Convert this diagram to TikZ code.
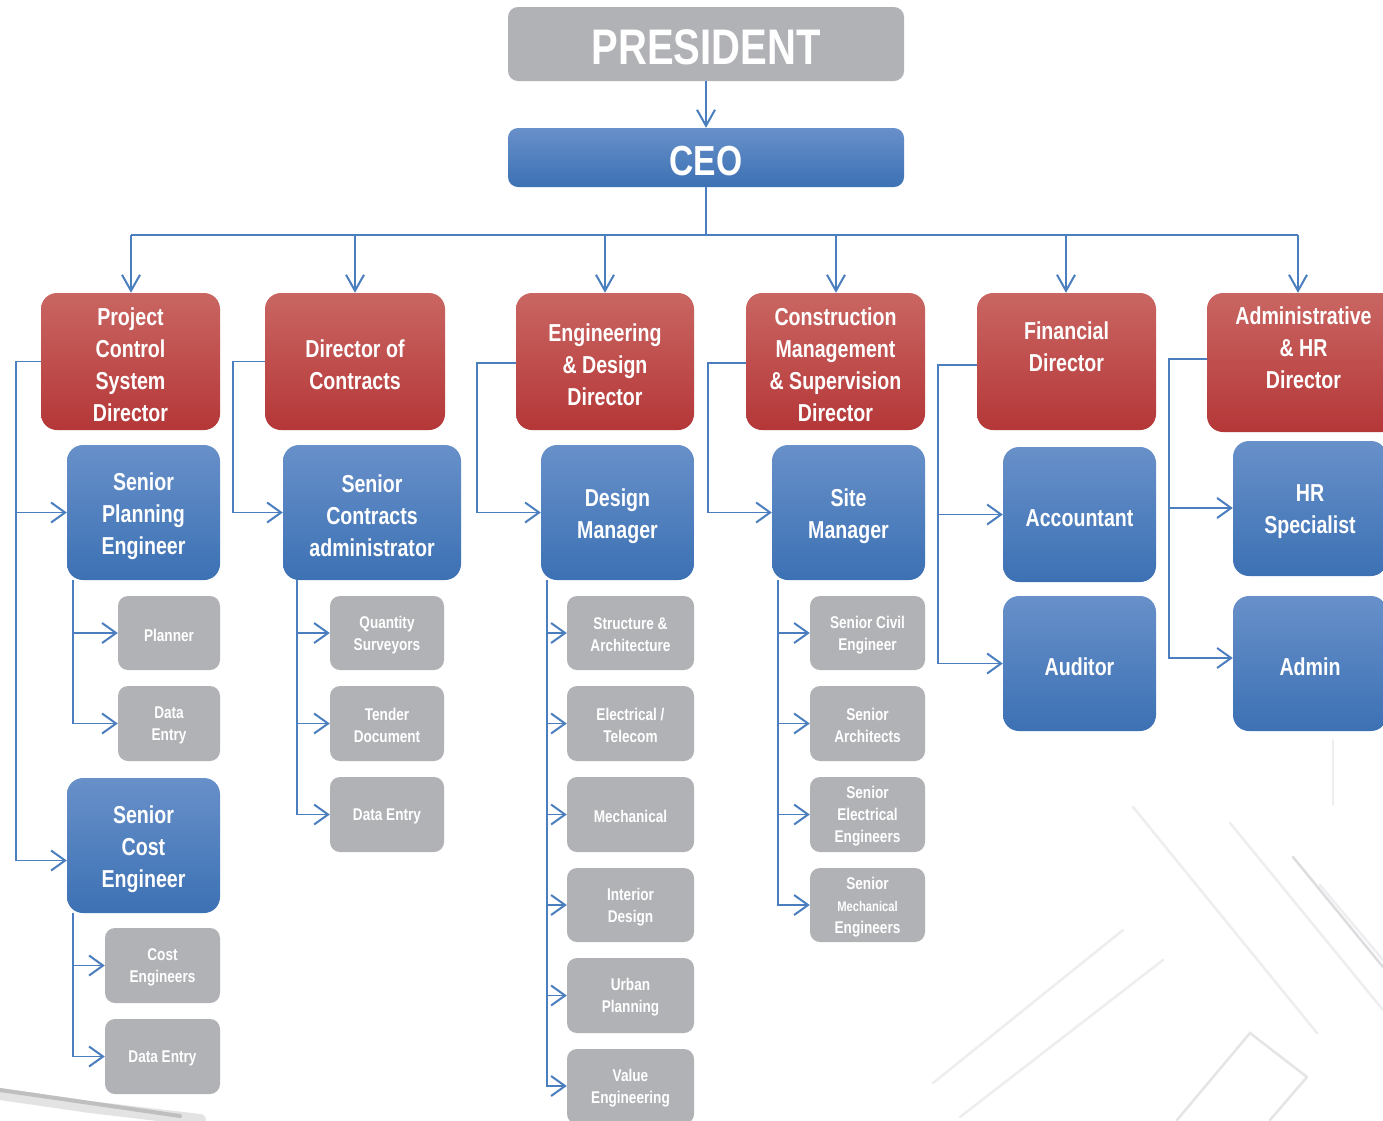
\documentclass[tikz,border=0pt]{standalone}
\usepackage{fontspec}
\setmainfont{Liberation Sans}[FakeStretch=0.8]
\usetikzlibrary{arrows.meta}
\definecolor{redtop}{RGB}{201,102,98}
\definecolor{redbot}{RGB}{181,55,56}
\definecolor{bluetop}{RGB}{104,144,201}
\definecolor{bluebot}{RGB}{60,113,180}
\definecolor{greybox}{RGB}{177,178,182}
\definecolor{linec}{RGB}{74,126,190}
\definecolor{sketch}{RGB}{238,238,240}
% box shape node + separate text node (slightly lowered, as in the reference)
\newcommand\bx[8]{%
  \node[#2, minimum width={(#5-#3)*1pt}, minimum height={(#6-#4)*1pt}] (#1) at ({(#3+#5)/2},{(#4+#6)/2}) {};
  \node[#2txt] (#1-t) at ([yshift=-#7pt]#1.center) {#8};}
\tikzset{
  basetxt/.style={inner sep=0pt, align=center, text=white},
  presbox/.style={inner sep=0pt, rounded corners=10pt, fill=greybox},
  presboxtxt/.style={basetxt, font=\bfseries\fontsize{50}{56}\selectfont},
  ceobox/.style={inner sep=0pt, rounded corners=10pt, top color=bluetop, bottom color=bluebot},
  ceoboxtxt/.style={basetxt, font=\bfseries\fontsize{42}{48}\selectfont},
  redbox/.style={inner sep=0pt, rounded corners=16pt, top color=redtop, bottom color=redbot},
  redboxtxt/.style={basetxt, font=\bfseries\fontsize{24.5}{32}\selectfont},
  bluebox/.style={inner sep=0pt, rounded corners=16pt, top color=bluetop, bottom color=bluebot},
  blueboxtxt/.style={basetxt, font=\bfseries\fontsize{24.5}{32}\selectfont},
  greyb/.style={inner sep=0pt, rounded corners=10pt, fill=greybox},
  greybtxt/.style={basetxt, font=\bfseries\fontsize{17}{22}\selectfont},
  conn/.style={draw=linec, line width=1.6pt},
  arr/.style={conn, -{Straight Barb[length=14pt,width=20pt,line width=2pt]}},
  darr/.style={conn, -{Straight Barb[length=16pt,width=18pt,line width=2pt]}},
  sk/.style={draw=sketch, line width=2.5pt, line cap=round},
}
\begin{document}
\begin{tikzpicture}[x=1pt,y=-1pt]
\useasboundingbox[fill=white] (0,0) rectangle (1383,1120);
% faint background sketch
\draw[sk] (1133,807) -- (1317,1033);
\draw[sk] (1230,823) -- (1383,1010);
\draw[sk, draw=sketch!85!gray] (1293,857) -- (1383,967);
\draw[sk] (1320,885) -- (1383,960);
\draw[sk] (933,1083) -- (1123,930);
\draw[sk] (960,1117) -- (1163,960);
\draw[sk, draw=sketch!92!gray] (1177,1120) -- (1250,1033) -- (1307,1077);
\draw[sk, draw=sketch!92!gray] (1270,1120) -- (1307,1077);
\draw[sk, line width=1.5pt] (1333,740) -- (1333,805);
\draw[draw=gray!22, line width=12pt, line cap=round] (0,1094) -- (90,1107) -- (200,1120);
\draw[draw=gray!50, line width=4pt, line cap=round] (0,1090) -- (90,1103) -- (180,1116);
% top
\bx{pres}{presbox}{508}{7}{904}{81}{3}{PRESIDENT}
\bx{ceo}{ceobox}{508}{128}{904}{187}{4}{CEO}
% directors
\bx{pcs}{redbox}{41}{293}{220}{430}{3.5}{Project\\Control\\System\\Director}
\bx{doc}{redbox}{265}{293}{445}{430}{3.5}{Director of\\Contracts}
\bx{edd}{redbox}{516}{293}{694}{430}{3.5}{Engineering\\\& Design\\Director}
\bx{cms}{redbox}{746}{293}{925}{430}{3.5}{Construction\\Management\\\& Supervision\\Director}
\bx{fin}{redbox}{977}{293}{1156}{430}{3.5}{Financial\\Director\\[5pt]}
\bx{ahr}{redbox}{1207}{293}{1400}{432}{3.5}{Administrative\\\& HR\\Director\\[4pt]}
% second level
\bx{spe}{bluebox}{67}{445}{220}{580}{3.5}{Senior\\Planning\\Engineer}
\bx{sca}{bluebox}{283}{445}{461}{580}{3.5}{Senior\\Contracts\\administrator}
\bx{dm}{bluebox}{541}{445}{694}{580}{3.5}{Design\\Manager}
\bx{sm}{bluebox}{772}{445}{925}{580}{3.5}{Site\\Manager}
\bx{acc}{bluebox}{1003}{447}{1156}{582}{3.5}{Accountant}
\bx{aud}{bluebox}{1003}{596}{1156}{731}{3.5}{Auditor}
\bx{hrs}{bluebox}{1233}{441}{1387}{576}{3.5}{HR\\Specialist}
\bx{adm}{bluebox}{1233}{596}{1387}{731}{3.5}{Admin}
\bx{sce}{bluebox}{67}{778}{220}{913}{3.5}{Senior\\Cost\\Engineer}
% third level
\bx{pln}{greyb}{118}{596}{220}{670}{2}{Planner}
\bx{de1}{greyb}{118}{686}{220}{761}{2}{Data\\Entry}
\bx{ce}{greyb}{105}{928}{220}{1003}{2}{Cost\\Engineers}
\bx{de2}{greyb}{105}{1019}{220}{1094}{2}{Data Entry}
\bx{qs}{greyb}{330}{596}{444}{670}{2}{Quantity\\Surveyors}
\bx{td}{greyb}{330}{686}{444}{761}{2}{Tender\\Document}
\bx{de3}{greyb}{330}{777}{444}{852}{2}{Data Entry}
\bx{sa}{greyb}{567}{596}{694}{670}{2}{Structure \&\\Architecture}
\bx{et}{greyb}{567}{686}{694}{761}{2}{Electrical /\\Telecom}
\bx{mec}{greyb}{567}{777}{694}{852}{2}{Mechanical}
\bx{id}{greyb}{567}{868}{694}{942}{2}{Interior\\Design}
\bx{up}{greyb}{567}{958}{694}{1033}{2}{Urban\\Planning}
\bx{ve}{greyb}{567}{1049}{694}{1124}{2}{Value\\Engineering}
\bx{sce1}{greyb}{810}{596}{925}{670}{2}{Senior Civil\\Engineer}
\bx{sar}{greyb}{810}{686}{925}{761}{2}{Senior\\Architects}
\bx{see}{greyb}{810}{777}{925}{852}{2}{Senior\\Electrical\\Engineers}
\bx{sme}{greyb}{810}{868}{925}{942}{2}{Senior\\{\fontsize{14}{22}\selectfont Mechanical}\\Engineers}
% president -> ceo
\draw[darr] (pres.south) -- (ceo.north);
% bus
\coordinate (busc) at (706,235);
\coordinate (busl) at (131,235);
\coordinate (busr) at (1298,235);
\draw[conn, line width=1.3pt] (ceo.south) -- (busc);
\draw[conn, line width=1.3pt] (busl) -- (busr);
\foreach \n/\x in {pcs/131, doc/355, edd/605, cms/836, fin/1066, ahr/1298}
  \draw[darr] (\x,235) -- (\n.north -| \x,0);
% director -> second level
\coordinate (kpcs) at (16,361.5);
\draw[arr] (pcs.west) -- (kpcs) |- (spe.west);
\draw[arr] (kpcs) |- ([yshift=-15pt]sce.west);
\coordinate (kdoc) at (233,361.5);
\draw[arr] (doc.west) -- (kdoc) |- (sca.west);
\coordinate (kedd) at (477,363);
\draw[arr] (edd.west |- kedd) -- (kedd) |- (dm.west);
\coordinate (kcms) at (708,363);
\draw[arr] (cms.west |- kcms) -- (kcms) |- (sm.west);
\coordinate (kfin) at (938,365);
\draw[arr] (fin.west |- kfin) -- (kfin) |- (acc.west);
\draw[arr] (kfin) |- (aud.west);
\coordinate (kahr) at (1169,359);
\draw[arr] (ahr.west |- kahr) -- (kahr) |- ([yshift=0.5pt]hrs.west);
\draw[arr] (kahr) |- ([yshift=5.5pt]adm.west);
% second -> third level
\coordinate (kspe) at (73,580);
\foreach \t in {pln,de1} \draw[arr] (kspe) |- (\t.west);
\coordinate (ksce) at (73,913);
\foreach \t in {ce,de2} \draw[arr] (ksce) |- (\t.west);
\coordinate (ksca) at (297,580);
\foreach \t in {qs,td,de3} \draw[arr] (ksca) |- (\t.west);
\coordinate (kdm) at (547,580);
\foreach \t in {sa,et,mec,id,up} \draw[arr] (kdm) |- (\t.west);
\draw[arr] (kdm) |- ([yshift=0.5pt]ve.west);
\coordinate (ksm) at (778,580);
\foreach \t in {sce1,sar,see,sme} \draw[arr] (ksm) |- (\t.west);
\end{tikzpicture}
\end{document}
